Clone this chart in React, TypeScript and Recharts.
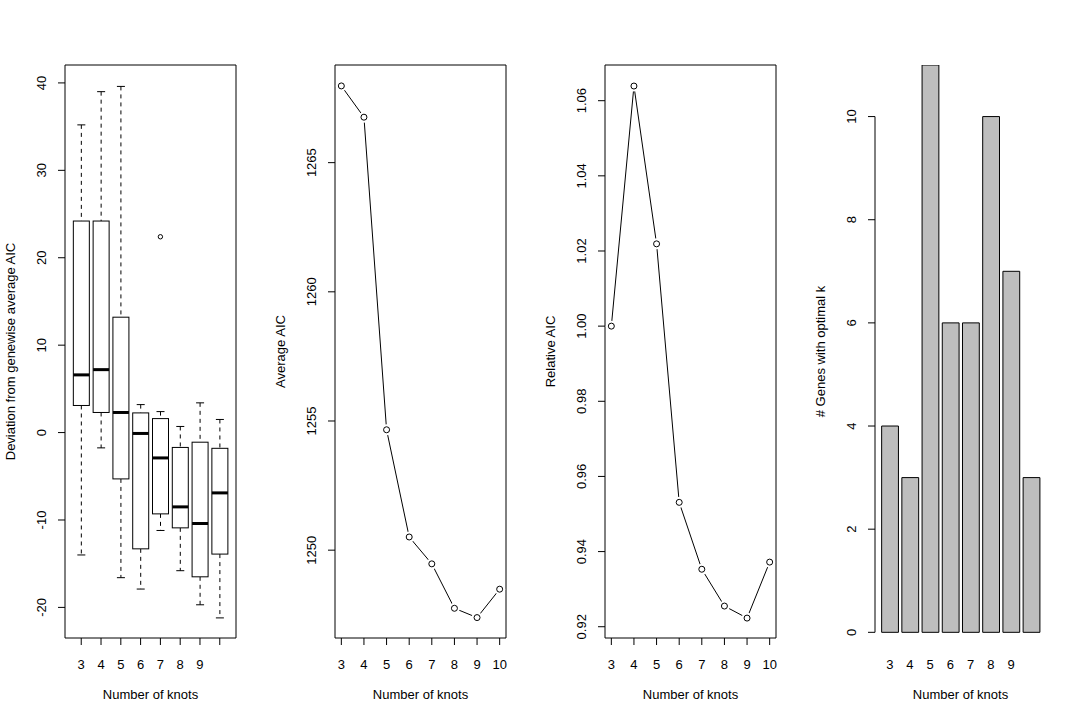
import React from 'react';
import {
  ComposedChart, Bar, Line, Scatter, XAxis, YAxis,
  ReferenceArea, ReferenceLine,
} from 'recharts';

// ─── Data ─────────────────────────────────────────────────────────────────────

const KNOTS = [3, 4, 5, 6, 7, 8, 9, 10];
// the last label was dropped in the original (no room for "10")
const SHORT_LABELS = ['3', '4', '5', '6', '7', '8', '9', ''];

// boxplot: deviation from genewise average AIC
const WHISKER_HIGH = [35.2, 39.0, 39.6, 3.2, 2.4, 0.7, 3.4, 1.5];
const Q3 = [24.2, 24.2, 13.2, 2.25, 1.6, -1.7, -1.1, -1.8];
const MEDIAN = [6.6, 7.2, 2.3, -0.1, -2.9, -8.5, -10.4, -6.9];
const Q1 = [3.1, 2.3, -5.3, -13.3, -9.3, -10.9, -16.5, -13.9];
const WHISKER_LOW = [-14.0, -1.75, -16.6, -17.9, -11.2, -15.8, -19.7, -21.2];
const OUTLIER_KNOTS = [7];
const OUTLIER_VALUES = [22.4];

const AVG_AIC = [1267.97, 1266.76, 1254.66, 1250.51, 1249.47, 1247.75, 1247.39, 1248.49];
const REL_AIC = [1.0, 1.0639, 1.0219, 0.9531, 0.9353, 0.9255, 0.9223, 0.9372];
const GENE_COUNTS = [4, 3, 11, 6, 6, 10, 7, 3];

const BOX_Y_TICKS = [-20, -10, 0, 10, 20, 30, 40];
const AVG_Y_TICKS = [1250, 1255, 1260, 1265];
const REL_Y_TICKS = [0.92, 0.94, 0.96, 0.98, 1.0, 1.02, 1.04, 1.06];
const GENE_Y_TICKS = [0, 2, 4, 6, 8, 10];

// ─── Tables ───────────────────────────────────────────────────────────────────

const boxRows = KNOTS.map((k, i) => ({
  knot: k, lo: WHISKER_LOW[i], q1: Q1[i], med: MEDIAN[i], q3: Q3[i], hi: WHISKER_HIGH[i],
}));
const outlierRows = OUTLIER_KNOTS.map((k, i) => ({ knot: k, value: OUTLIER_VALUES[i] }));
const avgRows = KNOTS.map((k, i) => ({ knot: k, aic: AVG_AIC[i] }));
const relRows = KNOTS.map((k, i) => ({ knot: k, rel: REL_AIC[i] }));
const geneRows = KNOTS.map((k, i) => ({ knot: k, genes: GENE_COUNTS[i] }));

// ─── Layout / style ───────────────────────────────────────────────────────────

const FONT = '"Liberation Sans", Arial, Helvetica, sans-serif';
const W = 270;
const H = 720;
const MARGIN = { top: 65, right: 34, bottom: 0, left: 0 };

const BOX_XD: [number, number] = [2.18, 10.82];
const BOX_YD: [number, number] = [-23.5, 42.05];
const LINE_XD: [number, number] = [2.72, 10.28];
const AVG_YD: [number, number] = [1246.6, 1268.78];
const REL_YD: [number, number] = [0.917, 1.0695];
const BAR_XD: [number, number] = [2.27, 10.731];
const BAR_YD: [number, number] = [-0.11, 11];

const txt = { fontSize: 13, fontFamily: FONT, fill: '#000' };

const xTick = (labels?: string[]) => (p: any) => {
  const v = p.payload.value;
  const s = labels ? labels[KNOTS.indexOf(v)] : String(v);
  return <text x={p.x} y={p.y + 24} textAnchor="middle" {...txt}>{s}</text>;
};

const yTick = (fmt: (v: number) => string = (v) => String(v)) => (p: any) => {
  const x = p.x - 11.5;
  return (
    <text x={x} y={p.y} transform={`rotate(-90 ${x} ${p.y})`} textAnchor="middle" {...txt}>
      {fmt(p.payload.value)}
    </text>
  );
};

function TitleX({ viewBox, text }: any) {
  return (
    <text x={viewBox.x + viewBox.width / 2} y={viewBox.y + 61} textAnchor="middle" {...txt}>
      {text}
    </text>
  );
}

function TitleY({ viewBox, text }: any) {
  const x = viewBox.x + 15;
  const y = viewBox.y + viewBox.height / 2;
  return (
    <text x={x} y={y} transform={`rotate(-90 ${x} ${y})`} textAnchor="middle" {...txt}>
      {text}
    </text>
  );
}

// box drawn inside the whisker range bar, positions interpolated from its pixel extent
function BoxShape(props: any) {
  const { x, y, width, height, payload } = props;
  const top = Math.min(y, y + height);
  const bottom = Math.max(y, y + height);
  const { lo, q1, med, q3, hi } = payload;
  const py = (v: number) => bottom - ((bottom - top) * (v - lo)) / (hi - lo);
  const cx = x + width / 2;
  const cap = width / 4;
  return (
    <g>
      <line x1={cx} x2={cx} y1={py(hi)} y2={py(q3)} stroke="#000" strokeDasharray="4 4" />
      <line x1={cx} x2={cx} y1={py(q1)} y2={py(lo)} stroke="#000" strokeDasharray="4 4" />
      <line x1={cx - cap} x2={cx + cap} y1={py(hi)} y2={py(hi)} stroke="#000" />
      <line x1={cx - cap} x2={cx + cap} y1={py(lo)} y2={py(lo)} stroke="#000" />
      <rect x={x} y={py(q3)} width={width} height={py(q1) - py(q3)} fill="#fff" stroke="#000" />
      <line x1={x} x2={x + width} y1={py(med)} y2={py(med)} stroke="#000" strokeWidth={3} />
    </g>
  );
}

const openDot = (p: any) => (
  <g key={`d-${p.index}`}>
    <circle cx={p.cx} cy={p.cy} r={5.5} fill="#fff" />
    <circle cx={p.cx} cy={p.cy} r={3} fill="#fff" stroke="#000" strokeWidth={1} />
  </g>
);

const Frame = ({ xd, yd }: { xd: [number, number]; yd: [number, number] }) => null;

// ─── Panels ───────────────────────────────────────────────────────────────────

function BoxPanel() {
  return (
    <ComposedChart width={W} height={H} data={boxRows} margin={MARGIN}>
      <XAxis
        dataKey="knot" type="number" domain={BOX_XD} ticks={KNOTS} allowDataOverflow
        axisLine={false} tickLine={{ stroke: '#000' }} tickSize={7} tickMargin={0} height={82}
        tick={xTick(SHORT_LABELS)} label={<TitleX text="Number of knots" />}
      />
      <YAxis
        type="number" domain={BOX_YD} ticks={BOX_Y_TICKS} allowDataOverflow
        axisLine={false} tickLine={{ stroke: '#000' }} tickSize={7} tickMargin={0} width={65}
        tick={yTick()} label={<TitleY text="Deviation from genewise average AIC" />}
      />
      <Bar dataKey={(d: any) => [d.lo, d.hi]} barSize={16} shape={BoxShape} isAnimationActive={false} />
      <Scatter
        data={outlierRows} dataKey="value" isAnimationActive={false}
        shape={(p: any) => <circle cx={p.cx} cy={p.cy} r={2.2} fill="none" stroke="#000" />}
      />
      <ReferenceArea
        x1={BOX_XD[0]} x2={BOX_XD[1]} y1={BOX_YD[0]} y2={BOX_YD[1]}
        fill="none" stroke="#000" strokeWidth={1} ifOverflow="visible"
      />
    </ComposedChart>
  );
}

function LinePanel({ rows, dataKey, yd, yTicks, title, fmt }: any) {
  return (
    <ComposedChart width={W} height={H} data={rows} margin={MARGIN}>
      <XAxis
        dataKey="knot" type="number" domain={LINE_XD} ticks={KNOTS} allowDataOverflow
        axisLine={false} tickLine={{ stroke: '#000' }} tickSize={7} tickMargin={0} height={82}
        tick={xTick()} label={<TitleX text="Number of knots" />}
      />
      <YAxis
        type="number" domain={yd} ticks={yTicks} allowDataOverflow
        axisLine={false} tickLine={{ stroke: '#000' }} tickSize={7} tickMargin={0} width={65}
        tick={yTick(fmt)} label={<TitleY text={title} />}
      />
      <Line
        dataKey={dataKey} stroke="#000" strokeWidth={1} dot={openDot} activeDot={false}
        isAnimationActive={false}
      />
      <ReferenceArea
        x1={LINE_XD[0]} x2={LINE_XD[1]} y1={yd[0]} y2={yd[1]}
        fill="none" stroke="#000" strokeWidth={1} ifOverflow="visible"
      />
    </ComposedChart>
  );
}

function BarPanel() {
  return (
    <ComposedChart width={W} height={H} data={geneRows} margin={MARGIN}>
      <XAxis
        dataKey="knot" type="number" domain={BAR_XD} ticks={KNOTS} allowDataOverflow
        axisLine={false} tickLine={{ stroke: 'none' }} tickSize={7} tickMargin={0} height={82}
        tick={xTick(SHORT_LABELS)} label={<TitleX text="Number of knots" />}
      />
      <YAxis
        type="number" domain={BAR_YD} ticks={GENE_Y_TICKS} allowDataOverflow
        axisLine={false} tickLine={{ stroke: '#000' }} tickSize={7} tickMargin={0} width={65}
        tick={yTick()} label={<TitleY text="# Genes with optimal k" />}
      />
      <Bar dataKey="genes" barSize={16.8} fill="#bebebe" stroke="#000" strokeWidth={1} isAnimationActive={false} />
      <ReferenceLine
        segment={[
          { x: BAR_XD[0], y: GENE_Y_TICKS[0] },
          { x: BAR_XD[0], y: GENE_Y_TICKS[GENE_Y_TICKS.length - 1] },
        ]}
        stroke="#000" strokeWidth={1} ifOverflow="visible"
      />
    </ComposedChart>
  );
}

export default function App() {
  return (
    <div
      style={{
        position: 'absolute', left: 0, top: 0, width: 1080, height: 720,
        background: '#fff', display: 'flex', fontFamily: FONT,
      }}
    >
      <BoxPanel />
      <LinePanel rows={avgRows} dataKey="aic" yd={AVG_YD} yTicks={AVG_Y_TICKS} title="Average AIC" />
      <LinePanel
        rows={relRows} dataKey="rel" yd={REL_YD} yTicks={REL_Y_TICKS} title="Relative AIC"
        fmt={(v: number) => v.toFixed(2)}
      />
      <BarPanel />
    </div>
  );
}
